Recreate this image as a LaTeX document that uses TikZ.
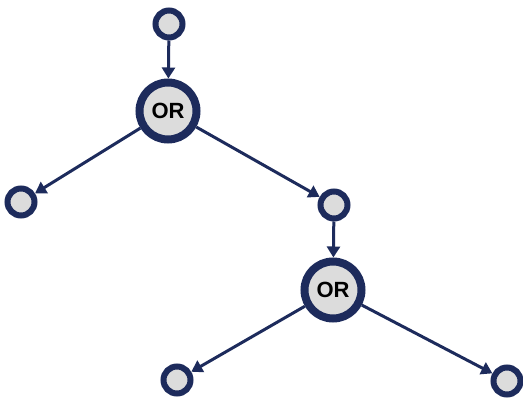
\documentclass[tikz,border=0pt]{standalone}
\usepackage{fontspec}
\setmainfont{Liberation Sans}
\usetikzlibrary{arrows.meta}
\definecolor{navy}{HTML}{1D2B5C}
\definecolor{nodefill}{HTML}{DCDCDC}
\tikzset{
  leaf/.style={circle,draw=navy,fill=nodefill,line width=6pt,minimum size=27pt,inner sep=0pt},
  gate/.style={circle,draw=navy,fill=nodefill,line width=8pt,minimum size=57pt,inner sep=0pt,font=\fontsize{22}{22}\selectfont\bfseries},
  conn/.style={draw=navy,line width=3pt,-{Triangle[length=11pt,width=13pt]}}
}
\begin{document}
\begin{tikzpicture}[x=1pt,y=-1pt]
\useasboundingbox (0,0) rectangle (523,399);
\node[leaf] (top) at (169,24) {};
\node[gate] (or1) at (168,111) {OR};
\node[leaf] (l) at (21,202) {};
\node[leaf] (r) at (334,205) {};
\node[gate] (or2) at (333,290) {OR};
\node[leaf] (bl) at (177,380) {};
\node[leaf] (br) at (507,381) {};
\draw[conn] (top) -- (or1);
\draw[conn] (or1) -- (l);
\draw[conn] (or1) -- (r);
\draw[conn] (r) -- (or2);
\draw[conn] (or2) -- (bl);
\draw[conn] (or2) -- (br);
\end{tikzpicture}
\end{document}
